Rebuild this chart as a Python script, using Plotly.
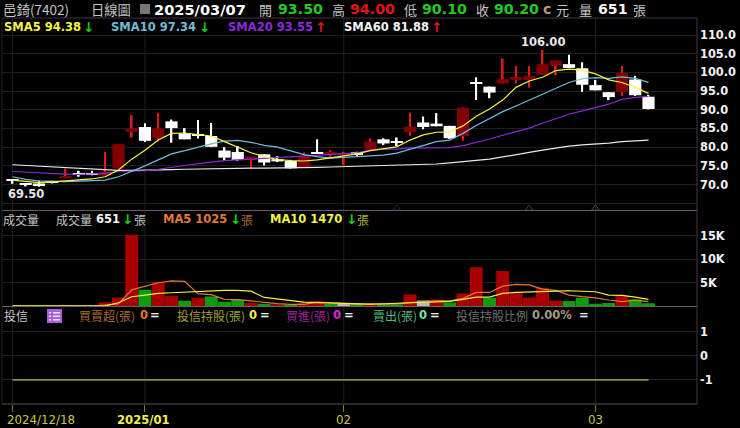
import plotly.graph_objects as go

opens = [71.2,70.0,70.3,70.8,71.7,73.0,72.9,72.4,74.35,84.1,85.4,82.5,86.9,83.7,83.2,83.0,79.1,78.7,76.6,78.1,76.8,76.3,74.5,78.5,78.3,77.7,78.7,79.3,82.1,81.5,84.0,86.6,86.3,85.7,83.0,97.1,96.2,97.0,98.0,98.0,99.4,101.7,102.2,101.1,96.6,94.7,94.8,98.1,93.5]
closes = [71.1,69.9,69.6,70.6,72.3,72.8,72.8,73.4,80.8,85.0,81.7,85.0,85.1,82.1,83.0,80.1,77.2,76.6,77.5,75.9,76.2,74.35,77.65,78.3,78.4,78.4,77.9,81.5,81.0,81.2,85.5,85.4,85.6,82.4,90.6,97.0,94.6,98.2,98.8,99.1,102.2,103.2,101.2,96.7,95.2,93.4,99.8,93.9,90.2]
highs = [71.3,70.4,71.0,71.0,74.3,73.7,73.7,78.7,80.8,88.6,86.4,89.2,87.4,85.1,87.3,86.5,80.0,80.3,77.5,78.1,77.6,76.6,78.6,82.1,79.2,78.8,78.8,82.4,82.4,82.6,89.2,88.2,89.1,85.7,90.6,98.7,96.2,103.7,101.7,101.7,106.0,103.2,104.7,102.7,98.0,94.7,101.7,99.1,94.0]
lows = [70.2,69.5,69.4,70.3,71.7,72.1,72.5,72.4,74.35,82.6,81.4,81.5,81.2,82.1,82.3,80.0,76.3,76.4,74.5,75.1,76.0,74.3,74.5,78.2,77.4,75.2,77.5,79.0,80.6,80.3,83.0,84.8,85.6,82.2,81.7,92.6,93.1,97.0,97.0,95.9,99.4,99.2,101.2,94.8,95.2,92.6,93.7,93.7,90.1]
sma5 = [71.2,70.8,70.5,70.7,71.0,71.2,71.5,72.1,73.9,76.8,79.2,81.9,83.7,83.8,83.4,83.0,81.5,79.9,78.5,77.5,76.7,76.4,76.3,76.6,77.2,77.7,78.2,79.1,79.5,80.1,81.9,83.3,84.0,84.1,85.7,88.3,90.2,92.6,96.0,97.7,98.7,100.5,100.9,100.6,99.6,98.0,97.3,96.0,94.38]
sma10 = [72.1,71.4,71.0,70.8,70.8,70.9,71.1,71.2,72.1,73.5,75.0,76.6,78.2,79.1,80.1,80.9,81.6,81.8,81.3,80.5,80.0,78.9,78.0,77.5,77.1,77.3,77.5,77.6,77.9,78.4,79.4,80.6,81.5,81.9,83.7,85.8,87.7,89.5,91.0,92.6,94.1,95.7,97.3,98.3,98.6,98.4,98.8,98.4,97.34]
sma20 = [73.5,73.3,73.1,73.0,72.8,72.7,72.8,73.0,73.5,73.5,73.7,74.1,74.5,75.1,75.6,76.0,76.4,76.6,76.8,77.1,77.4,77.6,77.7,77.9,78.1,78.2,78.5,79.2,79.5,79.5,79.8,79.8,79.8,79.9,80.4,81.2,82.2,83.2,84.2,85.1,86.4,87.7,88.8,89.7,90.7,91.5,92.8,93.3,93.55]
sma60 = [75.3,75.1,74.9,74.7,74.5,74.3,74.1,73.9,73.8,73.8,73.8,73.9,74.0,74.1,74.2,74.2,74.3,74.3,74.4,74.4,74.4,74.5,74.5,74.6,74.7,74.8,74.8,74.9,75.0,75.1,75.2,75.3,75.5,75.8,76.1,76.4,76.8,77.4,78.1,78.6,79.2,79.8,80.3,80.6,80.8,81.1,81.5,81.7,81.88]
volumes = [60,50,40,60,90,70,60,900,1900,15140,3520,5140,2250,1200,1830,2110,990,1410,700,560,450,350,700,1050,500,500,600,600,500,450,2500,1270,1480,850,2750,8310,1830,7470,2960,1900,3940,1270,1130,1830,560,700,2180,1480,651]
vol_kinds = list("rgrgrggrrrgrrgrggg"+"rgrgrrgwgrgg"+"rwrgrrgrrrrrggggrgg")
vol_ma5 = [50,50,50,50,60,60,80,300,550,3500,4300,5000,5400,5300,2700,2500,1500,1450,1150,850,600,450,450,900,850,650,450,450,450,550,800,1000,1150,1200,1700,2950,2950,4300,4650,4550,3650,3400,2400,2050,1800,1350,1000,1350,1025]
vol_ma10 = [100,100,100,100,100,100,100,120,780,2040,2390,2745,2890,3030,3170,3310,3380,3380,3240,1900,1550,1130,920,780,700,630,560,490,560,630,780,850,920,1060,1480,1970,1970,2750,2960,3100,3170,3240,3310,3240,3100,2390,2320,1970,1470]
trust_line = [-1]*49
price_ticks = [65,70,75,80,85,90,95,100,105,110]
price_labels = ["","70.0","75.0","80.0","85.0","90.0","95.0","100.0","105.0","110.0"]
vol_ticks = [5000,10000,15000]
vol_labels = ["5K","10K","15K"]
trust_ticks = [1,0,-1]
date_ticks = [0,10,25,44]
chevron_x = [29,39,44]
chevron_y = [63.6,63.6,63.6]
chevron_c = ["#2a2050","#3e3e3e","#4e4e18"]

x = list(range(len(opens)))
W, H = 740, 428
L, R = 2, 697
RED_BODY, RED_WICK, WHITE = "#820000", "#e01818", "#ffffff"
is_up = [c > o for o, c in zip(opens, closes)]
vol_colors = [{"r": "#a80000", "g": "#109a10", "w": "#b8b8b8"}[k] for k in vol_kinds]

def dom(top, bottom):
    return [1 - bottom / H, 1 - top / H]

fig = go.Figure()
# wicks then bodies
fig.add_bar(x=x, y=[h - l for h, l in zip(highs, lows)], base=lows, width=0.13,
            marker=dict(color=[RED_WICK if u else WHITE for u in is_up], line_width=0), yaxis="y")
fig.add_bar(x=x, y=[max(abs(c - o), 0.3) for o, c in zip(opens, closes)],
            base=[min(o, c) for o, c in zip(opens, closes)], width=0.92,
            marker=dict(color=[RED_BODY if u else WHITE for u in is_up], line_width=0), yaxis="y")
for s, col in ((sma60, "#e8e8e8"), (sma20, "#8a28d8"), (sma10, "#70bcd8"), (sma5, "#f4f440")):
    fig.add_scatter(x=x, y=s, mode="lines", line=dict(color=col, width=1.2), yaxis="y")
fig.add_scatter(x=chevron_x, y=chevron_y, mode="markers", yaxis="y",
                marker=dict(symbol="triangle-up-open", size=7, color=chevron_c, line=dict(width=1, color=chevron_c)))
fig.add_bar(x=x, y=volumes, width=0.98, marker=dict(color=vol_colors, line_width=0), yaxis="y2")
fig.add_scatter(x=x, y=vol_ma5, mode="lines", line=dict(color="#e07a30", width=1.2), yaxis="y2")
fig.add_scatter(x=x, y=vol_ma10, mode="lines", line=dict(color="#f0f040", width=1.2), yaxis="y2")
fig.add_scatter(x=x, y=trust_line, mode="lines", line=dict(color="#8f8a3e", width=1.6), yaxis="y3")

GRID = "#1e1e1e"
ytick = dict(color="#f2f2f2", family="DejaVu Sans", size=11.4, weight="bold")
def yax(top, bottom, rng, tv, tt):
    return dict(domain=dom(top, bottom), range=rng, side="right", anchor="x", tickvals=tv, ticktext=tt,
                showgrid=True, gridcolor=GRID, gridwidth=1, zeroline=False, ticks="", tickfont=ytick,
                showline=False, ticklabelstandoff=2)

fig.update_layout(
    width=W, height=H, autosize=False, showlegend=False, barmode="overlay", hovermode=False,
    paper_bgcolor="#000000", plot_bgcolor="#000000",
    margin=dict(l=0, r=0, t=0, b=0, pad=0),
    xaxis=dict(domain=[L / W, R / W], range=[-0.79, 51.66], anchor="y3", tickvals=date_ticks, ticktext=[""] * 4,
               showgrid=False, zeroline=False, ticks="outside", ticklen=7, tickcolor="#7a7a30", tickwidth=1),
    yaxis=yax(18, 210, [63.2, 114.55], price_ticks, price_labels),
    yaxis2=yax(211, 306.5, [-20, 20190], vol_ticks, vol_labels),
    yaxis3=yax(307, 404, [-2.0, 2.02], trust_ticks, [str(t) for t in trust_ticks]),
)

shapes = []
for top, col in ((18, "#4a3045"), (210.5, "#6a5668"), (306.5, "#666666"), (404, "#555555")):
    shapes.append(dict(type="line", xref="paper", yref="paper", x0=L / W, x1=R / W, y0=1 - top / H, y1=1 - top / H,
                       line=dict(color=col, width=1), layer="above"))
shapes.append(dict(type="line", xref="paper", yref="paper", x0=R / W, x1=R / W, y0=1 - 404 / H, y1=1 - 18 / H,
                   line=dict(color="#4a3045", width=1)))
shapes.append(dict(type="line", xref="paper", yref="paper", x0=L / W, x1=L / W, y0=1 - 404 / H, y1=1 - 18 / H,
                   line=dict(color="#2a2028", width=1)))
for t in date_ticks:
    shapes.append(dict(type="line", xref="x", yref="paper", x0=t, x1=t, y0=1 - 404 / H, y1=1 - 18 / H,
                       line=dict(color="#1e1e1e", width=1), layer="below"))
def rect(x0, y0, x1, y1, col):
    shapes.append(dict(type="rect", xref="paper", yref="paper", x0=x0 / W, x1=x1 / W, y0=1 - y1 / H, y1=1 - y0 / H,
                       fillcolor=col, line_width=0, layer="above"))
rect(140, 4, 150, 14, "#777777")
rect(47, 309, 62, 323, "#a860e0")
for yy in (312, 315.5, 319):
    rect(49, yy, 51, yy + 1.5, "#f0e0ff")
    rect(53, yy, 60, yy + 1.5, "#f0e0ff")
fig.update_layout(shapes=shapes)

CJK = "Noto Sans CJK TC"
LAT = "DejaVu Sans"
def t(px, py, s, col, size=11.5, bold=True, font=LAT):
    fig.add_annotation(xref="paper", yref="paper", x=px / W, y=1 - py / H, text=s, showarrow=False,
                       xanchor="left", yanchor="middle", borderpad=0, align="left",
                       font=dict(family=font, size=size, color=col, weight="bold" if bold else "normal"))
def c(px, py, s, col, size=12):
    t(px, py, s, col, size, False, CJK)
def arrow(px, py, s, col):
    t(px, py, s, col, 13.5)

GREEN, BRED, LG = "#1fcc1f", "#e01515", "#c4c4c4"
AG = "#10d010"
c(2, 9, "邑錡(7402)", LG, 13.5)
c(90, 9, "日線圖", LG, 13.3)
t(153, 9, "2025/03/07", "#ffffff", 14.6)
c(258, 9, "開", LG, 13); t(277, 9, "93.50", GREEN, 14.2)
c(331, 9, "高", LG, 13); t(349, 9, "94.00", BRED, 14.2)
c(403, 9, "低", LG, 13); t(421, 9, "90.10", GREEN, 14.2)
c(475, 9, "收", LG, 13); t(493, 9, "90.20", GREEN, 14.2)
t(542, 9, "c", "#b89a70", 14.2); c(555, 9, "元", LG, 13)
c(578, 9, "量", LG, 13); t(597, 9, "651", "#f4f4f4", 14.2); c(632, 9, "張", LG, 13)

t(3, 27, "SMA5 94.38", "#f4f440"); arrow(82, 27, "↓", AG)
t(110, 27, "SMA10 97.34", "#70bcd8"); arrow(198, 27, "↓", AG)
t(227, 27, "SMA20 93.55", "#8a28d8"); arrow(314, 27, "↑", BRED)
t(343, 27, "SMA60 81.88", "#f4f4f4"); arrow(430, 27, "↑", BRED)
t(520, 42, "106.00", "#e8e8e8")
t(7, 194, "69.50", "#e8e8e8")

c(2, 219, "成交量", LG); c(55, 219, "成交量", LG)
t(95, 219, "651", "#f4f4f4"); arrow(121, 219, "↓", AG); c(133, 219, "張", LG)
t(162, 219, "MA5 1025", "#e07a30"); arrow(229, 219, "↓", AG); c(240, 219, "張", "#b0662a")
t(269, 219, "MA10 1470", "#f0f040"); arrow(345, 219, "↓", AG); c(356, 219, "張", "#b0b030")

c(3, 315, "投信", LG)
c(78, 315, "買賣超(張)", "#a86a30"); t(139, 315, "0", "#e07a30"); t(149, 315, "=", "#f0f0f0")
c(176, 315, "投信持股(張)", "#a0a030"); t(248, 315, "0", "#f0f040"); t(259, 315, "=", "#f0f0f0")
c(285, 315, "買進(張)", "#a020a0"); t(332, 315, "0", "#e020e0"); t(343, 315, "=", "#f0f0f0")
c(372, 315, "賣出(張)", "#50b878"); t(418, 315, "0", "#70e8a0"); t(429, 315, "=", "#f0f0f0")
c(455, 315, "投信持股比例", "#707070"); t(531, 315, "0.00%", "#a89a88"); t(578, 315, "=", "#f0f0f0")

t(6, 420, "2024/12/18", "#c8c840", 11.8, False)
t(116, 420, "2025/01", "#f0f040", 11.6)
t(335, 420, "02", "#c8c840", 11.8, False)
t(587, 420, "03", "#c8c840", 11.8, False)

fig.write_html("out.html", config=dict(displayModeBar=False),
               post_script="document.body.style.margin='0';document.body.style.background='#000';")
